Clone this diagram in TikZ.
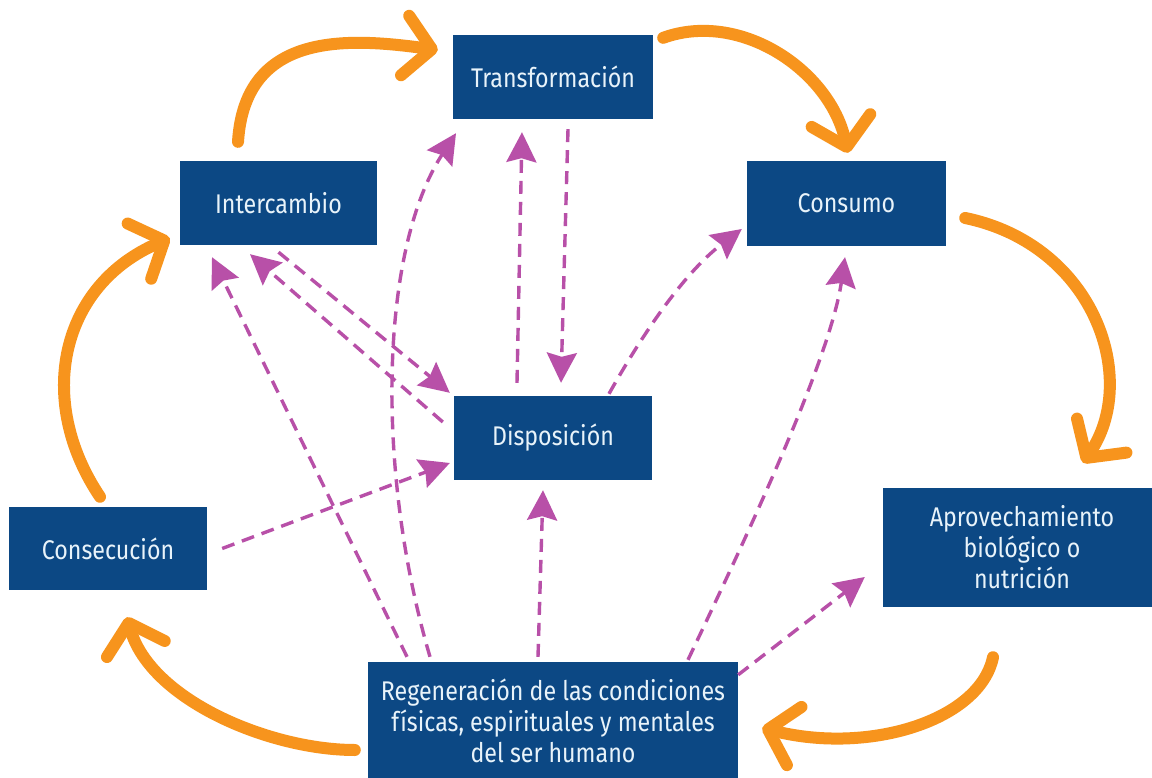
\documentclass[tikz,border=0pt]{standalone}
\usepackage{fontspec}
\setmainfont[FakeStretch=0.86]{Fira Sans}
\usetikzlibrary{arrows.meta}
\definecolor{boxblue}{RGB}{12,72,132}
\definecolor{arrorange}{RGB}{247,148,29}
\definecolor{dashmag}{RGB}{184,80,168}
\definecolor{boxtext}{RGB}{232,243,250}
\begin{document}
\begin{tikzpicture}[x=1pt,y=-1pt,
  box/.style={fill=boxblue, text=boxtext, align=center, inner sep=0pt,
    font=\fontsize{27}{31}\selectfont},
  cyc/.style={draw=arrorange, line width=12pt, line cap=round,
    -{Straight Barb[length=27pt,width=60pt,round]}},
  dl/.style={draw=dashmag, line width=3.4pt, dash pattern=on 13pt off 8pt,
    -{Stealth[length=30pt,width=30pt,inset=4pt]}}]
\useasboundingbox (0,0) rectangle (1152,778);
\fill[white] (0,0) rectangle (1152,778);

% boxes
\node[box, minimum width=200pt, minimum height=84pt] (trans) at (553,77) {Transformación};
\node[box, minimum width=197pt, minimum height=84pt] (inter) at (278.5,203) {Intercambio};
\node[box, minimum width=199pt, minimum height=85pt] (cons) at (846.5,203.5) {Consumo};
\node[box, minimum width=198pt, minimum height=84pt] (disp) at (553,438) {Disposición};
\node[box, minimum width=198pt, minimum height=83pt] (consec) at (108,548.5) {Consecución};
\node[box, minimum width=278pt, minimum height=119pt] (aprov) at (1022,547.5) {Aprovechamiento\\biológico o\\nutrición};
\node[box, minimum width=370pt, minimum height=118pt] (reg) at (553,721) {Regeneración de las condiciones\\físicas, espirituales y mentales\\del ser humano};

% orange cycle
\draw[cyc] ([xshift=-8pt,yshift=10pt]consec.north) .. controls (35,400) and (60,285) .. ([xshift=-10pt,yshift=7pt]inter.south west);
\draw[cyc] ([xshift=-40.5pt,yshift=19pt]inter.north) .. controls (245,30) and (350,38) .. ([xshift=-15pt,yshift=27pt]trans.west);
\draw[cyc] ([xshift=10pt,yshift=-3pt]trans.north east) .. controls (740,10) and (830,70) .. ([xshift=1.5pt,yshift=8pt]cons.north);
\draw[cyc] ([xshift=19pt,yshift=-14.5pt]cons.east) .. controls (1095,245) and (1140,380) .. ([xshift=61pt,yshift=25pt]aprov.north);
\draw[cyc] ([xshift=-29pt,yshift=-50pt]aprov.south) .. controls (980,720) and (870,755) .. ([xshift=24pt,yshift=-7pt]reg.east);
\draw[cyc] ([xshift=-13pt,yshift=-29pt]reg.west) .. controls (270,750) and (150,700) .. ([xshift=19pt,yshift=-27pt]consec.south);

% magenta dashed links
\draw[dl] ([xshift=-123pt,yshift=5pt]reg.north) .. controls (375,470) and (380,250) .. ([xshift=-97pt,yshift=-14pt]trans.south);
\draw[dl] ([xshift=-146pt,yshift=5pt]reg.north) -- ([xshift=-66.5pt,yshift=-12pt]inter.south);
\draw[dl] ([xshift=-15pt,yshift=5pt]reg.north) -- ([xshift=-10pt,yshift=-10pt]disp.south);
\draw[dl] ([xshift=135pt,yshift=2pt]reg.north) .. controls (745,540) and (830,360) .. ([xshift=-1.5pt,yshift=-11pt]cons.south);
\draw[dl] ([yshift=-13pt]reg.north east) -- ([xshift=-18pt,yshift=-29.5pt]aprov.west);
\draw[dl] ([xshift=15pt]consec.east) -- ([xshift=-4pt,yshift=-25pt]disp.west);
\draw[dl] ([yshift=-7pt]inter.south) -- ([xshift=-4pt,yshift=3pt]disp.north west);
\draw[dl] ([xshift=-11pt,yshift=16pt]disp.west) -- ([xshift=-28.5pt,yshift=-9pt]inter.south);
\draw[dl] ([xshift=-36pt,yshift=13pt]disp.north) -- ([xshift=-31pt,yshift=-13pt]trans.south);
\draw[dl] ([xshift=15pt,yshift=-10pt]trans.south) -- ([xshift=8pt,yshift=13pt]disp.north);
\draw[dl] ([xshift=56pt,yshift=2pt]disp.north) .. controls (643,333) and (685,272) .. ([xshift=-5pt,yshift=-25.5pt]cons.west);
\end{tikzpicture}
\end{document}
